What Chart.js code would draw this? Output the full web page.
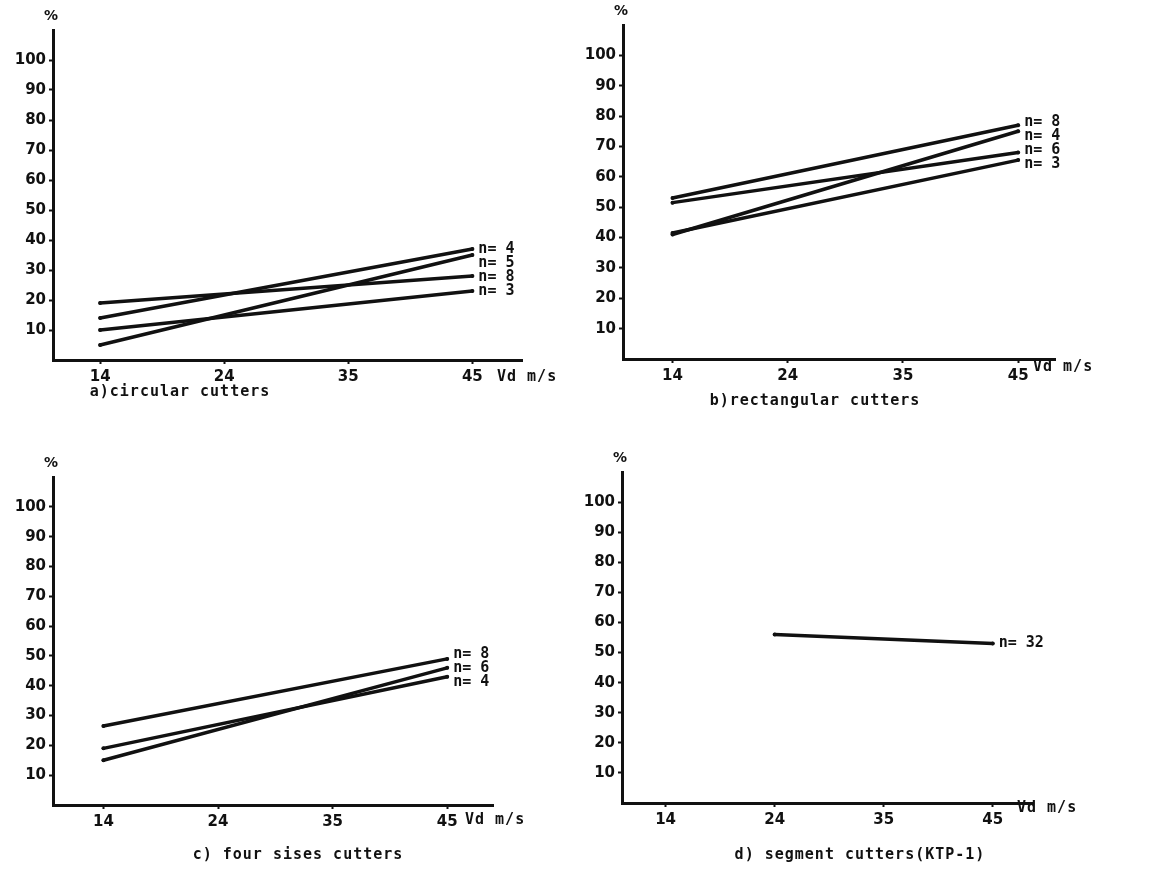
<!DOCTYPE html>
<html>
<head>
<meta charset="utf-8">
<script src="https://cdn.jsdelivr.net/npm/chart.js@4.4.0/dist/chart.umd.min.js"></script>
<style>
  html, body { margin: 0; padding: 0; background: #fff; }
  body { width: 1152px; height: 869px; position: relative; overflow: hidden; }
  canvas { position: absolute; left: 0; top: 0; }
</style>
</head>
<body>
<canvas id="panelA" width="1152" height="869"></canvas>
<canvas id="panelB" width="1152" height="869"></canvas>
<canvas id="panelC" width="1152" height="869"></canvas>
<canvas id="panelD" width="1152" height="869"></canvas>
<script>
// ejes comunes
const speeds = ['14', '24', '35', '45'];
const yTicks = [10, 20, 30, 40, 50, 60, 70, 80, 90, 100];

// a) circular cutters
const circularLabels = ['n= 4', 'n= 5', 'n= 8', 'n= 3'];
const circularN4 = [14, null, null, 37];
const circularN5 = [5, null, null, 35];
const circularN8 = [19, null, null, 28];
const circularN3 = [10, null, null, 23];

// b) rectangular cutters
const rectLabels = ['n= 8', 'n= 4', 'n= 6', 'n= 3'];
const rectN8 = [53, null, null, 77];
const rectN4 = [41, null, null, 75];
const rectN6 = [51.5, null, null, 68];
const rectN3 = [41.5, null, null, 65.5];

// c) four sises cutters
const fourLabels = ['n= 8', 'n= 6', 'n= 4'];
const fourN8 = [26.5, null, null, 49];
const fourN6 = [15, null, null, 46];
const fourN4 = [19, null, null, 43];

// d) segment cutters
const segLabels = ['n= 32'];
const segN32 = [null, 56, null, 53];

const TICK_FONT = { family: "'DejaVu Sans', sans-serif", size: 15, weight: 'bold' };
const TEXT_FONT = "bold 15px 'DejaVu Sans Mono', monospace";

const Y_W = 50;   // ancho fijo del eje y
const X_H = 30;   // alto fijo del eje x

const extrasPlugin = {
    id: 'extras',
    afterDraw(chart, args, opts) {
        const ctx = chart.ctx;
        const area = chart.chartArea;
        const xs = chart.scales.x;
        const ys = chart.scales.y;
        ctx.save();
        ctx.fillStyle = '#111';

        // etiquetas n= al final de cada linea, separadas si se solapan
        const ends = chart.data.datasets.map((ds, i) => {
            const last = ds.data[ds.data.length - 1];
            return { text: opts.seriesLabels[i], x: xs.getPixelForValue(last.x), y: ys.getPixelForValue(last.y) };
        }).sort((a, b) => a.y - b.y);
        const gap = 14;
        const placed = ends.map(e => e.y);
        for (let i = 1; i < placed.length; i++) {
            if (placed[i] - placed[i - 1] < gap) placed[i] = placed[i - 1] + gap;
        }
        const shift = placed.length ? (placed[placed.length - 1] - ends[ends.length - 1].y) / 2 : 0;
        ctx.font = TEXT_FONT;
        ctx.textAlign = 'left';
        ctx.textBaseline = 'middle';
        ends.forEach((e, i) => ctx.fillText(e.text, e.x + 6, placed[i] - shift));

        // "%" arriba del eje y
        ctx.textAlign = 'center';
        ctx.font = "bold 14px 'DejaVu Sans', sans-serif";
        ctx.fillText('%', area.left - 2, area.top - 14);

        // unidad del eje x
        ctx.font = TEXT_FONT;
        ctx.letterSpacing = '1px';
        ctx.textAlign = 'left';
        ctx.fillText('Vd m/s', opts.vdX, opts.vdY);

        // titulo del panel
        ctx.textAlign = 'center';
        ctx.fillText(opts.title, opts.titleX, opts.titleY);
        ctx.restore();
    }
};

function serie(valores) {
    return valores.map((v, i) => (v === null ? null : { x: i, y: v })).filter(p => p !== null);
}

function crearPanel(id, p) {
    const ctx = document.getElementById(id).getContext('2d');
    return new Chart(ctx, {
        type: 'line',
        data: {
            datasets: p.series.map(valores => ({
                data: serie(valores),
                borderColor: '#111',
                backgroundColor: '#111',
                borderWidth: 3.5,
                borderCapStyle: 'round',
                pointRadius: 2,
                pointBorderWidth: 0,
                tension: 0
            }))
        },
        options: {
            responsive: false,
            animation: false,
            events: [],
            layout: {
                padding: {
                    left: p.area.l - Y_W,
                    right: 1152 - p.area.r,
                    top: p.area.t,
                    bottom: 869 - p.area.b - X_H
                }
            },
            plugins: {
                legend: { display: false },
                tooltip: { enabled: false },
                extras: {
                    seriesLabels: p.seriesLabels,
                    title: p.title, titleX: p.titleX, titleY: p.titleY,
                    vdX: p.vdX, vdY: p.vdY
                }
            },
            scales: {
                x: {
                    type: 'linear',
                    min: p.xMin,
                    max: p.xMax,
                    afterBuildTicks: s => { s.ticks = speeds.map((t, i) => ({ value: i })); },
                    afterFit: s => { s.height = X_H; },
                    ticks: {
                        color: '#111',
                        font: TICK_FONT,
                        padding: 4,
                        maxRotation: 0,
                        callback: v => speeds[v]
                    },
                    grid: { drawOnChartArea: false, drawTicks: true, tickLength: 4, tickColor: '#111', tickWidth: 2 },
                    border: { display: true, color: '#111', width: 3 }
                },
                y: {
                    type: 'linear',
                    min: 0,
                    max: p.yMax,
                    afterBuildTicks: s => { s.ticks = yTicks.map(v => ({ value: v })); },
                    afterFit: s => { s.width = Y_W; },
                    ticks: { color: '#111', font: TICK_FONT, padding: 3 },
                    grid: { drawOnChartArea: false, drawTicks: true, tickLength: 4, tickColor: '#111', tickWidth: 2 },
                    border: { display: true, color: '#111', width: 3 }
                }
            }
        },
        plugins: [extrasPlugin]
    });
}

document.addEventListener('DOMContentLoaded', () => {
    crearPanel('panelA', {
        area: { l: 53, r: 522, t: 30, b: 360 },
        xMin: -0.38, xMax: 3.40, yMax: 110,
        series: [circularN4, circularN5, circularN8, circularN3],
        seriesLabels: circularLabels,
        title: 'a)circular cutters', titleX: 180, titleY: 392,
        vdX: 497, vdY: 377
    });
    crearPanel('panelB', {
        area: { l: 623, r: 1055, t: 25, b: 359 },
        xMin: -0.43, xMax: 3.32, yMax: 110,
        series: [rectN8, rectN4, rectN6, rectN3],
        seriesLabels: rectLabels,
        title: 'b)rectangular cutters', titleX: 815, titleY: 401,
        vdX: 1033, vdY: 367
    });
    crearPanel('panelC', {
        area: { l: 53, r: 493, t: 477, b: 805 },
        xMin: -0.44, xMax: 3.40, yMax: 110,
        series: [fourN8, fourN6, fourN4],
        seriesLabels: fourLabels,
        title: 'c) four sises cutters', titleX: 298, titleY: 855,
        vdX: 465, vdY: 820
    });
    crearPanel('panelD', {
        area: { l: 622, r: 1032, t: 472, b: 803 },
        xMin: -0.40, xMax: 3.36, yMax: 110,
        series: [segN32],
        seriesLabels: segLabels,
        title: 'd) segment cutters(KTP-1)', titleX: 860, titleY: 855,
        vdX: 1017, vdY: 808
    });
});
</script>
</body>
</html>
